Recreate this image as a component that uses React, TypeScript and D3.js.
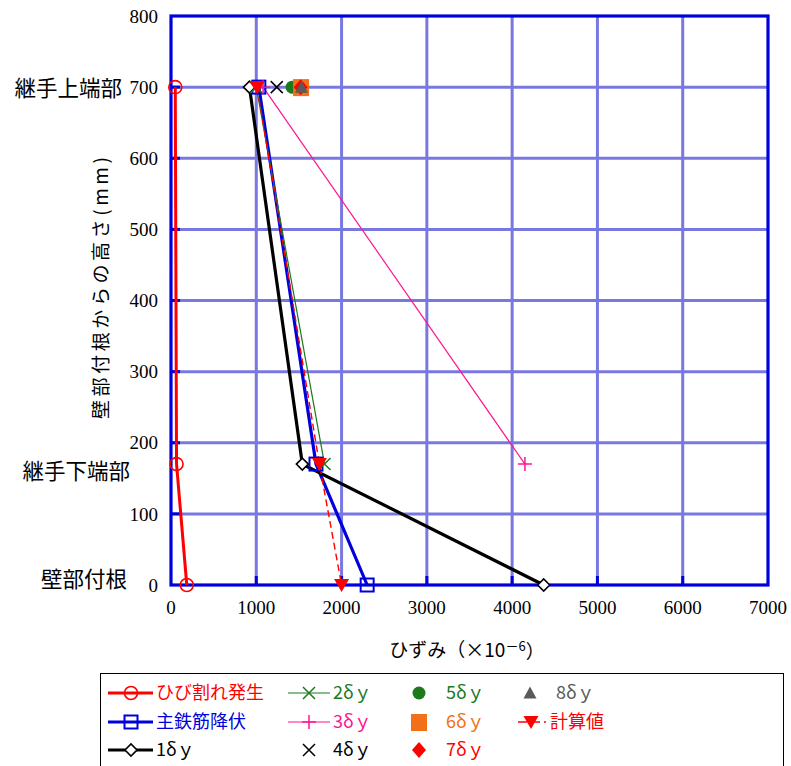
import React from "react";
import * as d3 from "d3";

// Heights (mm) of the three gauge positions
const heights = [700, 170, 0];
const heightLabels = ["継手上端部", "継手下端部", "壁部付根"];

// Strain values (×10^-6) at each height
const crackStrain = [50, 65, 185];
const yieldStrain = [1030, 1700, 2300];
const d1Strain = [920, 1540, 4370];
const d2Strain = [1000, 1800];
const d3Strain = [1080, 4150];
const d4Strain = [1240];
const d5Strain = [1420];
const d6Strain = [1525];
const d7Strain = [1520];
const d8Strain = [1530];
const calcStrain = [1010, 1740, 2000];

const xTicks = [0, 1000, 2000, 3000, 4000, 5000, 6000, 7000];
const yTicks = [0, 100, 200, 300, 400, 500, 600, 700, 800];

const W = 791;
const H = 766;
const x = d3.scaleLinear().domain([0, 7000]).range([171, 768]);
const y = d3.scaleLinear().domain([0, 800]).range([585, 16]);

const RED = "#ff0000";
const BLUE = "#0000dd";
const GREEN = "#1b7a1b";
const PINK = "#ff1493";
const ORANGE = "#f27118";
const GRAY = "#5a5a5a";
const GRID = "#7878e0";

type Shape =
  | "circleOpen"
  | "squareOpen"
  | "diamondOpen"
  | "x"
  | "plus"
  | "circle"
  | "square"
  | "diamond"
  | "triUp"
  | "triDown";

function Marker({ shape, cx, cy, color }: { shape: Shape; cx: number; cy: number; color: string }) {
  switch (shape) {
    case "circleOpen":
      return <circle cx={cx} cy={cy} r={6.5} fill="none" stroke={color} strokeWidth={1.6} />;
    case "squareOpen":
      return <rect x={cx - 6.5} y={cy - 6.5} width={13} height={13} fill="none" stroke={color} strokeWidth={2} />;
    case "diamondOpen":
      return (
        <path
          d={`M${cx - 6},${cy}L${cx},${cy - 6}L${cx + 6},${cy}L${cx},${cy + 6}Z`}
          fill="#fff"
          stroke={color}
          strokeWidth={1.6}
        />
      );
    case "x":
      return (
        <path
          d={`M${cx - 6},${cy - 6}L${cx + 6},${cy + 6}M${cx - 6},${cy + 6}L${cx + 6},${cy - 6}`}
          stroke={color}
          strokeWidth={1.5}
        />
      );
    case "plus":
      return (
        <path d={`M${cx - 7},${cy}L${cx + 7},${cy}M${cx},${cy - 7}L${cx},${cy + 7}`} stroke={color} strokeWidth={1.5} />
      );
    case "circle":
      return <circle cx={cx} cy={cy} r={6.5} fill={color} />;
    case "square":
      return <rect x={cx - 8} y={cy - 8} width={16} height={17} fill={color} />;
    case "diamond":
      return <path d={`M${cx - 7},${cy}L${cx},${cy - 8}L${cx + 7},${cy}L${cx},${cy + 8}Z`} fill={color} />;
    case "triUp":
      return <path d={`M${cx - 6.5},${cy + 5.5}L${cx},${cy - 6.5}L${cx + 6.5},${cy + 5.5}Z`} fill={color} />;
    case "triDown":
      return <path d={`M${cx - 7.5},${cy - 6}L${cx + 7.5},${cy - 6}L${cx},${cy + 7}Z`} fill={color} />;
  }
  return null;
}

type Series = {
  name: string;
  values: number[];
  color: string;
  width: number;
  dash?: string;
  line: boolean;
  shape: Shape;
};

const series: Series[] = [
  { name: "ひび割れ発生", values: crackStrain, color: RED, width: 3, line: true, shape: "circleOpen" },
  { name: "主鉄筋降伏", values: yieldStrain, color: BLUE, width: 3.2, line: true, shape: "squareOpen" },
  { name: "1δｙ", values: d1Strain, color: "#000", width: 3.2, line: true, shape: "diamondOpen" },
  { name: "2δｙ", values: d2Strain, color: GREEN, width: 1.2, line: true, shape: "x" },
  { name: "3δｙ", values: d3Strain, color: PINK, width: 1.2, line: true, shape: "plus" },
  { name: "4δｙ", values: d4Strain, color: "#000", width: 0, line: false, shape: "x" },
  { name: "5δｙ", values: d5Strain, color: GREEN, width: 0, line: false, shape: "circle" },
  { name: "6δｙ", values: d6Strain, color: ORANGE, width: 0, line: false, shape: "square" },
  { name: "7δｙ", values: d7Strain, color: RED, width: 0, line: false, shape: "diamond" },
  { name: "8δｙ", values: d8Strain, color: GRAY, width: 0, line: false, shape: "triUp" },
  { name: "計算値", values: calcStrain, color: RED, width: 1.4, dash: "7,4", line: true, shape: "triDown" },
];

// legend slots: [series index, marker x, line x0, line x1, text x, row y]
const legendSlots: [number, number, number, number, number, number][] = [
  [0, 131, 108, 153, 156, 693],
  [1, 131, 108, 153, 156, 722],
  [2, 131, 108, 153, 156, 750],
  [3, 309, 288, 330, 333, 693],
  [4, 309, 288, 330, 333, 722],
  [5, 309, 0, 0, 333, 750],
  [6, 419, 0, 0, 446, 693],
  [7, 419, 0, 0, 446, 722],
  [8, 419, 0, 0, 446, 750],
  [9, 530, 0, 0, 556, 693],
  [10, 531, 518, 546, 550, 722],
];

const serif = "'Liberation Serif', 'Times New Roman', serif";
const jp = "'Noto Sans CJK JP', sans-serif";

export default function App() {
  const lineGen = d3
    .line<[number, number]>()
    .x((d) => x(d[0]))
    .y((d) => y(d[1]));

  return (
    <svg width={W} height={H} style={{ position: "absolute", left: 0, top: 0, background: "#fff" }}>
      <rect width={W} height={H} fill="#fff" />
      {/* grid */}
      {xTicks.slice(1, -1).map((t) => (
        <line key={"gx" + t} x1={x(t)} x2={x(t)} y1={y(800)} y2={y(0)} stroke={GRID} strokeWidth={3} />
      ))}
      {yTicks.slice(1, -1).map((t) => (
        <line key={"gy" + t} x1={x(0)} x2={x(7000)} y1={y(t)} y2={y(t)} stroke={GRID} strokeWidth={3} />
      ))}
      {/* inside tick marks */}
      {xTicks.slice(1, -1).map((t) => (
        <line key={"tx" + t} x1={x(t)} x2={x(t)} y1={y(0)} y2={y(0) - 9} stroke={BLUE} strokeWidth={3} />
      ))}
      {yTicks.slice(1, -1).map((t) => (
        <line key={"ty" + t} x1={x(0)} x2={x(0) + 9} y1={y(t)} y2={y(t)} stroke={BLUE} strokeWidth={3} />
      ))}
      {/* frame */}
      <rect x={x(0)} y={y(800)} width={x(7000) - x(0)} height={y(0) - y(800)} fill="none" stroke={BLUE} strokeWidth={3.2} />

      {/* y tick labels */}
      {yTicks.map((t) => (
        <text key={"ly" + t} x={158} y={y(t)} dy="0.35em" textAnchor="end" fontFamily={serif} fontSize={19}>
          {t}
        </text>
      ))}
      {/* x tick labels */}
      {xTicks.map((t) => (
        <text key={"lx" + t} x={x(t)} y={607} dy="0.35em" textAnchor="middle" fontFamily={serif} fontSize={19}>
          {t}
        </text>
      ))}
      {/* named heights */}
      <text x={122} y={88} dy="0.36em" textAnchor="end" fontFamily={jp} fontSize={21.5}>
        {heightLabels[0]}
      </text>
      <text x={130} y={471} dy="0.36em" textAnchor="end" fontFamily={jp} fontSize={21.5}>
        {heightLabels[1]}
      </text>
      <text x={127} y={579} dy="0.36em" textAnchor="end" fontFamily={jp} fontSize={21.5}>
        {heightLabels[2]}
      </text>

      {/* axis titles */}
      <text
        transform="translate(101,288) rotate(-90)"
        textAnchor="middle"
        dy="0.35em"
        fontFamily={jp}
        fontSize={19}
        textLength={262}
        lengthAdjust="spacing"
      >
        壁部付根からの高さ(mm)
      </text>
      <text x={467} y={650} dy="0.35em" textAnchor="middle" fontFamily={jp} fontSize={19}>
        ひずみ（×10
        <tspan dy="-0.45em" fontSize={13}>
          －6
        </tspan>
        <tspan dy="0.45em">）</tspan>
      </text>

      {/* series lines */}
      {series.map((s, i) =>
        s.line ? (
          <path
            key={"l" + i}
            d={lineGen(s.values.map((v, k) => [v, heights[k]]) as [number, number][]) || ""}
            fill="none"
            stroke={s.color}
            strokeWidth={s.width}
            strokeDasharray={s.dash}
          />
        ) : null
      )}
      {/* series markers */}
      {series.map((s, i) => (
        <g key={"m" + i}>
          {s.values.map((v, k) => (
            <Marker key={k} shape={s.shape} cx={x(v)} cy={y(heights[k])} color={s.color} />
          ))}
        </g>
      ))}

      {/* legend */}
      <rect x={100.5} y={673.5} width={683} height={100} fill="#fff" stroke="#000" strokeWidth={1} />
      {legendSlots.map(([si, mx, l0, l1, tx, ry]) => {
        const s = series[si];
        return (
          <g key={"lg" + si}>
            {s.line && (
              <line
                x1={l0}
                x2={l1}
                y1={ry}
                y2={ry}
                stroke={s.color}
                strokeWidth={s.width}
                strokeDasharray={s.dash ? "9,4" : undefined}
              />
            )}
            <Marker shape={s.shape} cx={mx} cy={ry} color={s.color} />
            <text x={tx} y={ry} dy="0.36em" fontFamily={jp} fontSize={18} fill={s.color}>
              {s.name}
            </text>
          </g>
        );
      })}
    </svg>
  );
}
